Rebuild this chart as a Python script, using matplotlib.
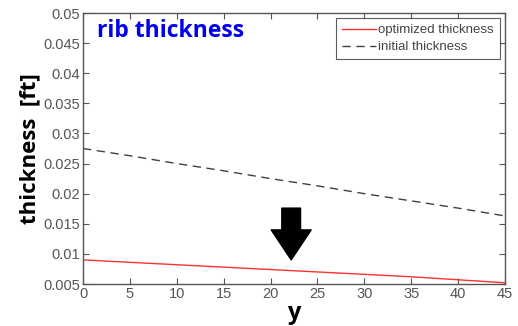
import matplotlib
matplotlib.use("Agg")
import matplotlib.pyplot as plt

y_pos = [0, 5, 10, 15, 20, 25, 30, 35, 40, 45]
optimized = [0.0090, 0.0086, 0.0082, 0.0078, 0.0074, 0.0070, 0.0066, 0.0062, 0.0057, 0.0052]
initial = [0.0275, 0.0263, 0.0250, 0.0238, 0.0225, 0.0213, 0.0200, 0.0188, 0.0176, 0.0163]
xticks = [0, 5, 10, 15, 20, 25, 30, 35, 40, 45]
yticks = [0.005, 0.01, 0.015, 0.02, 0.025, 0.03, 0.035, 0.04, 0.045, 0.05]
ytick_labels = ["0.005", "0.01", "0.015", "0.02", "0.025", "0.03", "0.035", "0.04", "0.045", "0.05"]

plt.rcParams['font.family'] = ['Liberation Sans', 'DejaVu Sans']

fig = plt.figure(figsize=(5.18, 3.26), dpi=100)
ax = fig.add_axes([83/518, 1-284/326, (505-83)/518, (284-13)/326])

ax.plot(y_pos, optimized, color='#ff3030', lw=1.0, label='optimized thickness')
ax.plot(y_pos, initial, color='#404040', lw=1.0, ls=(0, (6, 4)), label='initial thickness')

ax.set_xlim(0, 45)
ax.set_ylim(0.005, 0.05)
ax.set_xticks(xticks)
ax.set_yticks(yticks)
ax.set_yticklabels(ytick_labels)
ax.tick_params(direction='in', top=True, right=True, length=4, width=0.8,
               colors='#555555', labelcolor='#555555', labelsize=10.5, pad=2)
for s in ax.spines.values():
    s.set_color('#555555')
    s.set_linewidth(1.0)

leg = ax.legend(loc='upper right', fontsize=9.5, frameon=True, fancybox=False,
                edgecolor='#333333', handlelength=2.6, handletextpad=0.15,
                borderpad=0.45, labelspacing=0.35, borderaxespad=0.4)
leg.get_frame().set_linewidth(0.8)
for t in leg.get_texts():
    t.set_color('#444444')

ax.text(0.033, 0.978, 'rib thickness', transform=ax.transAxes, color='#0000ee',
        fontsize=16.5, fontweight='bold', family=['Open Sans', 'DejaVu Sans'],
        ha='left', va='top')

ax.set_ylabel('thickness  [ft]', fontsize=16, fontweight='bold',
              family=['Open Sans', 'DejaVu Sans'], labelpad=2)
ax.set_xlabel('y', fontsize=17, fontweight='bold',
              family=['Open Sans', 'DejaVu Sans'], labelpad=0)

ax.annotate('', xy=(22.2, 0.0090), xytext=(22.2, 0.0176),
            arrowprops=dict(arrowstyle='simple,head_length=1.2,head_width=1.6,tail_width=0.75',
                            color='black', shrinkA=0, shrinkB=0, mutation_scale=18))

fig.savefig('out.png', dpi=100)
